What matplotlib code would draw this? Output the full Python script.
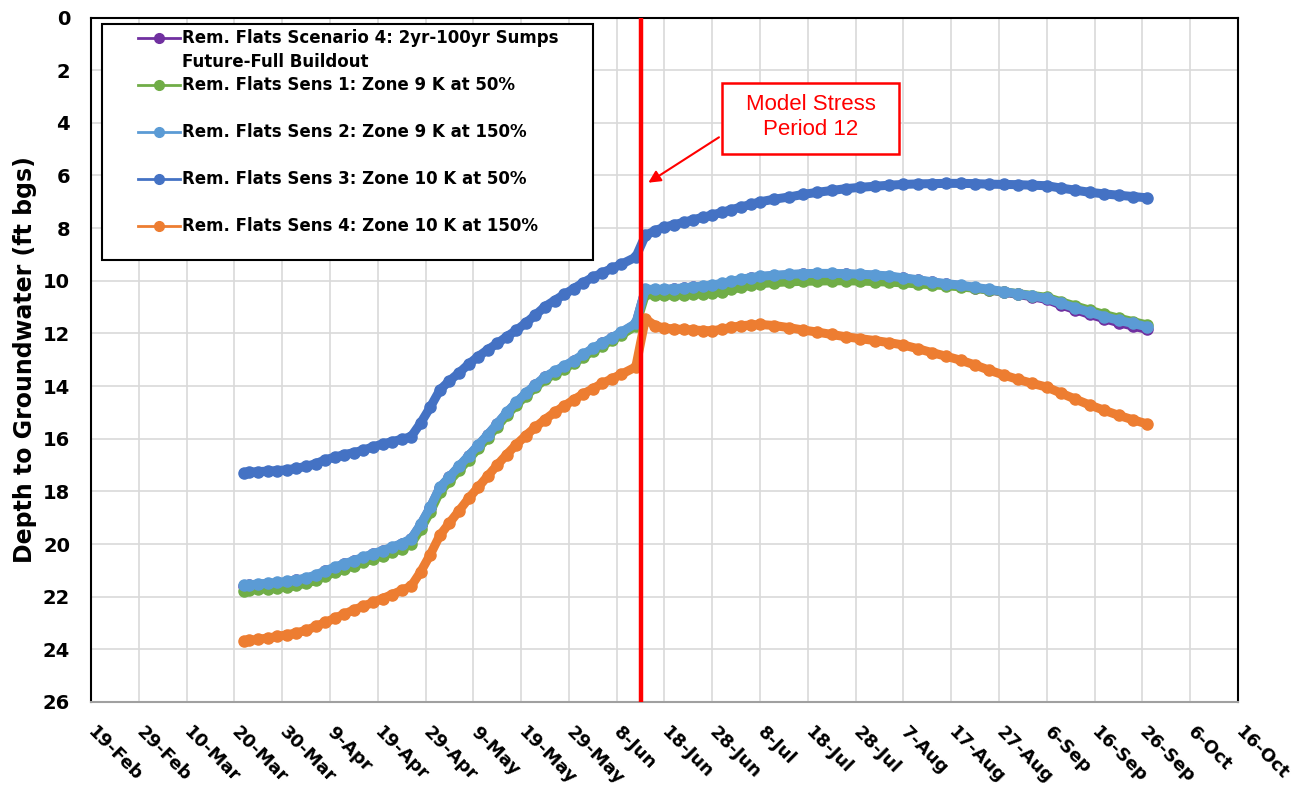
import matplotlib
matplotlib.use('Agg')
import matplotlib.pyplot as plt
from matplotlib.lines import Line2D
from matplotlib.patches import Rectangle
import pandas as pd

plt.rcParams['font.family'] = 'DejaVu Sans'

# ---------------------------------------------------------------- data
days = ['03-22', '03-23', '03-25', '03-27', '03-29', '03-31',
        '04-02', '04-04', '04-06', '04-08', '04-10', '04-12', '04-14', '04-16',
        '04-18', '04-20', '04-22', '04-24', '04-26', '04-28', '04-30',
        '05-02', '05-04', '05-06', '05-08', '05-10', '05-12', '05-14', '05-16',
        '05-18', '05-20', '05-22', '05-24', '05-26', '05-28', '05-30',
        '06-01', '06-03', '06-05', '06-07', '06-09', '06-12',
        '06-14', '06-16', '06-18', '06-20', '06-22', '06-24', '06-26', '06-28', '06-30',
        '07-02', '07-04', '07-06', '07-08', '07-11', '07-14', '07-17', '07-20',
        '07-23', '07-26', '07-29',
        '08-01', '08-04', '08-07', '08-10', '08-13', '08-16', '08-19', '08-22',
        '08-25', '08-28', '08-31',
        '09-03', '09-06', '09-09', '09-12', '09-15', '09-18', '09-21', '09-24', '09-27']
dates = pd.to_datetime(['2020-' + d for d in days])

scen4 = [21.59, 21.57, 21.54, 21.51, 21.48, 21.44, 21.38, 21.31, 21.20, 21.04,
         20.90, 20.77, 20.65, 20.52, 20.39, 20.27, 20.14, 20.00, 19.82, 19.27,
         18.62, 17.87, 17.47, 17.07, 16.67, 16.27, 15.87, 15.45, 15.02, 14.64,
         14.29, 13.97, 13.67, 13.46, 13.26, 13.05, 12.82, 12.59, 12.38, 12.18,
         11.97, 11.64,
         10.34, 10.35, 10.34, 10.32, 10.29, 10.25, 10.22, 10.18, 10.12, 10.04,
         9.97, 9.90, 9.85, 9.81, 9.78, 9.75, 9.74, 9.74, 9.75, 9.77,
         9.80, 9.84, 9.91, 9.98, 10.06, 10.13, 10.19, 10.27, 10.35, 10.43,
         10.52, 10.61, 10.71, 10.92, 11.10, 11.28, 11.44, 11.59, 11.72, 11.85]

sens1 = [21.77, 21.75, 21.72, 21.69, 21.66, 21.62, 21.56, 21.49, 21.38, 21.22,
         21.07, 20.94, 20.82, 20.69, 20.56, 20.44, 20.31, 20.17, 19.99, 19.43,
         18.78, 18.02, 17.61, 17.20, 16.79, 16.37, 15.96, 15.54, 15.10, 14.72,
         14.37, 14.05, 13.75, 13.54, 13.34, 13.13, 12.90, 12.67, 12.46, 12.26,
         12.05, 11.72,
         10.52, 10.54, 10.55, 10.54, 10.53, 10.51, 10.49, 10.47, 10.41, 10.33,
         10.25, 10.17, 10.11, 10.07, 10.04, 10.02, 10.01, 10.00, 10.00, 10.01,
         10.03, 10.05, 10.08, 10.12, 10.15, 10.19, 10.23, 10.29, 10.35, 10.42,
         10.49, 10.56, 10.63, 10.80, 10.96, 11.12, 11.28, 11.42, 11.55, 11.68]

sens2 = [21.57, 21.55, 21.52, 21.49, 21.46, 21.42, 21.36, 21.29, 21.18, 21.02,
         20.88, 20.75, 20.63, 20.50, 20.37, 20.25, 20.12, 19.98, 19.80, 19.25,
         18.60, 17.85, 17.45, 17.05, 16.65, 16.25, 15.85, 15.43, 15.00, 14.62,
         14.27, 13.95, 13.65, 13.44, 13.24, 13.03, 12.80, 12.57, 12.36, 12.16,
         11.95, 11.62,
         10.32, 10.33, 10.32, 10.30, 10.27, 10.23, 10.20, 10.16, 10.10, 10.02,
         9.95, 9.88, 9.83, 9.79, 9.76, 9.73, 9.72, 9.72, 9.73, 9.75,
         9.78, 9.82, 9.89, 9.96, 10.04, 10.11, 10.17, 10.25, 10.33, 10.41,
         10.50, 10.58, 10.67, 10.86, 11.03, 11.20, 11.36, 11.50, 11.62, 11.75]

sens3 = [17.29, 17.27, 17.25, 17.23, 17.21, 17.18, 17.12, 17.05, 16.95, 16.80,
         16.70, 16.60, 16.53, 16.43, 16.31, 16.20, 16.11, 16.02, 15.92, 15.40,
         14.80, 14.15, 13.80, 13.50, 13.17, 12.88, 12.62, 12.38, 12.12, 11.88,
         11.60, 11.30, 10.98, 10.75, 10.52, 10.30, 10.07, 9.87, 9.70, 9.53,
         9.37, 9.10,
         8.28, 8.10, 7.96, 7.87, 7.78, 7.68, 7.59, 7.50, 7.40, 7.30,
         7.20, 7.10, 7.00, 6.90, 6.82, 6.72, 6.64, 6.57, 6.50, 6.45,
         6.41, 6.37, 6.34, 6.32, 6.31, 6.30, 6.30, 6.31, 6.33, 6.34,
         6.35, 6.37, 6.39, 6.48, 6.56, 6.64, 6.70, 6.75, 6.80, 6.85]

sens4 = [23.68, 23.66, 23.62, 23.57, 23.51, 23.45, 23.37, 23.28, 23.13, 22.98,
         22.82, 22.66, 22.50, 22.36, 22.22, 22.07, 21.92, 21.76, 21.60, 21.05,
         20.40, 19.67, 19.20, 18.74, 18.27, 17.85, 17.42, 17.00, 16.60, 16.22,
         15.88, 15.56, 15.27, 15.00, 14.76, 14.52, 14.30, 14.10, 13.90, 13.72,
         13.55, 13.27,
         11.45, 11.70, 11.80, 11.83, 11.85, 11.87, 11.89, 11.90, 11.84, 11.77,
         11.71, 11.68, 11.66, 11.70, 11.78, 11.87, 11.95, 12.04, 12.13, 12.20,
         12.27, 12.35, 12.44, 12.58, 12.73, 12.87, 13.02, 13.20, 13.40, 13.58,
         13.75, 13.90, 14.04, 14.27, 14.50, 14.72, 14.92, 15.11, 15.28, 15.44]

series = [
    ('Rem. Flats Scenario 4: 2yr-100yr Sumps', scen4, '#7030A0'),
    ('Rem. Flats Sens 1: Zone 9 K at 50%', sens1, '#70AD47'),
    ('Rem. Flats Sens 2: Zone 9 K at 150%', sens2, '#5B9BD5'),
    ('Rem. Flats Sens 3: Zone 10 K at 50%', sens3, '#4472C4'),
    ('Rem. Flats Sens 4: Zone 10 K at 150%', sens4, '#ED7D31'),
]

stress_date = pd.Timestamp('2020-06-13')
x_start, x_end = pd.Timestamp('2020-02-19'), pd.Timestamp('2020-10-16')
x_ticks = pd.date_range(x_start, x_end, freq='10D')
y_ticks = list(range(0, 27, 2))

# ---------------------------------------------------------------- figure
fig = plt.figure(figsize=(13.07, 7.96), dpi=100)
ax = fig.add_axes([0.0696, 0.1181, 0.8776, 0.8599])

for name, vals, col in series:
    ax.plot(dates, vals, color=col, lw=6.5, marker='o', ms=8,
            solid_joinstyle='round', solid_capstyle='round', zorder=2)

ax.axvline(stress_date, color='#FF0000', lw=3.2, zorder=5)

ax.set_xlim(x_start, x_end)
ax.set_ylim(26, 0)
ax.set_yticks(y_ticks)
ax.set_xticks(x_ticks)
ax.set_xticklabels([f'{d.day}-{d.strftime("%b")}' for d in x_ticks])

ax.set_axisbelow(True)
ax.grid(True, color='#D9D9D9', lw=1.2)
ax.tick_params(axis='both', length=0)
ax.tick_params(axis='y', pad=15, labelsize=14)
ax.tick_params(axis='x', pad=20, labelsize=13)
for t in ax.get_yticklabels():
    t.set_fontweight('bold')
for t in ax.get_xticklabels():
    t.set_fontweight('bold')
    t.set_rotation(-45)
    t.set_ha('left')
    t.set_va('center')
    t.set_rotation_mode('anchor')

for s in ['top', 'right', 'left']:
    ax.spines[s].set_color('black')
    ax.spines[s].set_linewidth(1.5)
ax.spines['bottom'].set_color('#A0A0A0')
ax.spines['bottom'].set_linewidth(1.5)

ax.set_ylabel('Depth to Groundwater (ft bgs)', fontsize=17, fontweight='bold')
ax.yaxis.set_label_coords(-0.047, 0.5)

# ---------------------------------------------------------------- legend
blank = Line2D([], [], color='none')
handles, labels = [], []
for i, (name, vals, col) in enumerate(series):
    handles.append(Line2D([], [], color=col, lw=2, marker='o', ms=7))
    labels.append(name)
    handles.append(blank)
    labels.append('Future-Full Buildout' if i == 0 else ' ')
handles, labels = handles[:-1], labels[:-1]

ax.add_patch(Rectangle((0.0096, 0.6457), 0.4281, 0.3448, transform=ax.transAxes,
                       facecolor='white', edgecolor='black', lw=1.5, zorder=4))
leg = ax.legend(handles, labels, loc='upper left', bbox_to_anchor=(0.041, 0.9825),
                frameon=False, borderpad=0, borderaxespad=0, labelspacing=0.33,
                handlelength=2.52, handletextpad=0.15,
                prop={'weight': 'bold', 'size': 12})
leg.set_zorder(6)

# ---------------------------------------------------------------- annotation
ax.add_patch(Rectangle((0.5501, 0.8006), 0.1544, 0.1041, transform=ax.transAxes,
                       facecolor='white', edgecolor='#FF0000', lw=1.8, zorder=6))
ax.text(0.6273, 0.8546, 'Model Stress\nPeriod 12', transform=ax.transAxes,
        ha='center', va='center', color='#FF0000', fontsize=16,
        family='Liberation Sans', linespacing=1.2, zorder=7)
ax.annotate('', xy=(0.4859, 0.7587), xycoords='axes fraction',
            xytext=(0.5475, 0.825), textcoords='axes fraction',
            arrowprops=dict(arrowstyle='-|>', color='#FF0000', lw=1.5,
                            mutation_scale=18, shrinkA=0, shrinkB=0),
            zorder=7)

fig.savefig('out.png', dpi=100)
